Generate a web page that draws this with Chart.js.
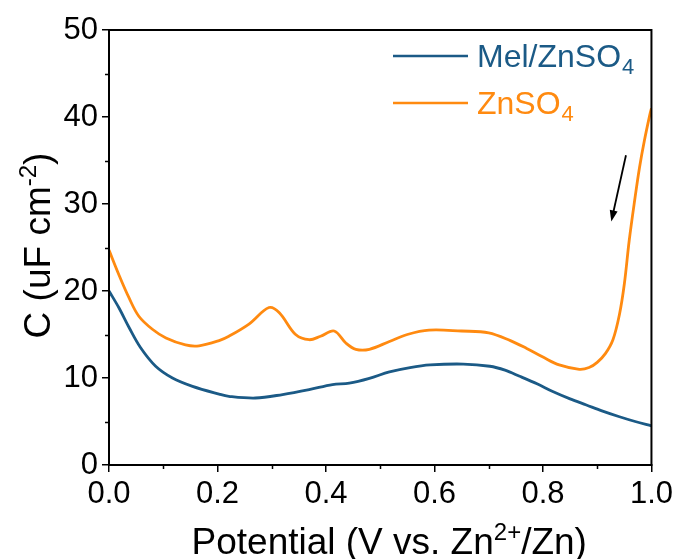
<!DOCTYPE html>
<html>
<head>
<meta charset="utf-8">
<script src="https://cdn.jsdelivr.net/npm/chart.js@4"></script>
<style>
html, body { margin: 0; padding: 0; background: #fff; }
#wrap { width: 677px; height: 559px; }
</style>
</head>
<body>
<div id="wrap"><canvas id="chart" width="677" height="559"></canvas></div>
<script>
// Potential (V) and capacitance (uF cm-2)
var potentialMel = [0, 0.018, 0.037, 0.058, 0.086, 0.117, 0.154, 0.203, 0.221, 0.27, 0.32, 0.369, 0.412, 0.443, 0.48, 0.517, 0.555, 0.592, 0.653, 0.702, 0.73, 0.757, 0.79, 0.818, 0.85, 0.88, 0.91, 0.941, 0.97, 1.00];
var capMel = [20.0, 18.1, 15.8, 13.5, 11.35, 10.0, 9.04, 8.15, 7.9, 7.7, 8.1, 8.66, 9.24, 9.4, 9.95, 10.7, 11.2, 11.5, 11.6, 11.35, 10.9, 10.2, 9.3, 8.45, 7.6, 6.9, 6.2, 5.55, 5.0, 4.5];

var potentialZn = [0, 0.018, 0.037, 0.055, 0.08, 0.105, 0.141, 0.166, 0.203, 0.221, 0.258, 0.295, 0.314, 0.344, 0.369, 0.39, 0.415, 0.437, 0.455, 0.48, 0.517, 0.55, 0.59, 0.65, 0.70, 0.74, 0.77, 0.80, 0.83, 0.867, 0.885, 0.9, 0.915, 0.929, 0.941, 0.95, 0.959, 0.969, 0.978, 0.987, 0.9975, 1.00];
var capZn = [24.7, 21.9, 19.2, 17.1, 15.6, 14.6, 13.8, 13.7, 14.3, 14.8, 16.2, 18.1, 17.5, 15.0, 14.4, 14.8, 15.4, 14.0, 13.3, 13.3, 14.2, 15.0, 15.5, 15.4, 15.2, 14.3, 13.4, 12.4, 11.5, 11.0, 11.2, 11.8, 12.8, 14.4, 17.3, 20.8, 25.8, 30.4, 34.2, 37.3, 40.4, 41.0];

var xMinorTicks = [0.1, 0.3, 0.5, 0.7, 0.9];
var yMinorTicks = [5, 15, 25, 35, 45];

var seriesNames = ["Mel/ZnSO", "ZnSO"];
var seriesColors = ["#1b5a86", "#ff8a10"];

// arrow annotation, in data units (start -> end)
var arrowFrom = [0.953, 35.6];
var arrowTo = [0.926, 28.0];

var FONT = 'Arial, "Liberation Sans", sans-serif';

function toPoints(xs, ys) {
    var pts = [];
    for (var i = 0; i < xs.length; i++) {
        pts.push({ x: xs[i], y: ys[i] });
    }
    return pts;
}

// draw text with sub/superscript parts, centred on x
function drawRich(ctx, parts, x, y, size) {
    var small = Math.round(size * 0.64);
    var total = 0;
    for (var i = 0; i < parts.length; i++) {
        ctx.font = (parts[i].s ? small : size) + "px " + FONT;
        total += ctx.measureText(parts[i].t).width;
    }
    var cx = x - total / 2;
    ctx.textAlign = "left";
    ctx.textBaseline = "alphabetic";
    for (var j = 0; j < parts.length; j++) {
        var p = parts[j];
        var dy = 0;
        if (p.s === "sup") dy = -size * 0.38;
        if (p.s === "sub") dy = size * 0.22;
        ctx.font = (p.s ? small : size) + "px " + FONT;
        ctx.fillText(p.t, cx, y + dy);
        cx += ctx.measureText(p.t).width;
    }
}

var extrasPlugin = {
    id: "extras",
    afterDraw: function (chart) {
        var ctx = chart.ctx;
        var area = chart.chartArea;
        var xs = chart.scales.x;
        var ys = chart.scales.y;
        ctx.save();

        // frame
        ctx.strokeStyle = "#000";
        ctx.lineWidth = 2;
        ctx.strokeRect(area.left, area.top, area.right - area.left, area.bottom - area.top);

        // minor ticks
        ctx.lineWidth = 1.5;
        ctx.beginPath();
        for (var i = 0; i < xMinorTicks.length; i++) {
            var px = Math.round(xs.getPixelForValue(xMinorTicks[i])) + 0.5;
            ctx.moveTo(px, area.bottom);
            ctx.lineTo(px, area.bottom + 4);
        }
        for (var k = 0; k < yMinorTicks.length; k++) {
            var py = Math.round(ys.getPixelForValue(yMinorTicks[k])) + 0.5;
            ctx.moveTo(area.left, py);
            ctx.lineTo(area.left - 4, py);
        }
        ctx.stroke();

        // axis titles
        ctx.fillStyle = "#000";
        drawRich(ctx, [{ t: "Potential (V vs. Zn" }, { t: "2+", s: "sup" }, { t: "/Zn)" }],
            (area.left + area.right) / 2 + 9, 554, 37);
        ctx.save();
        ctx.translate(50, (area.top + area.bottom) / 2 - 2);
        ctx.rotate(-Math.PI / 2);
        drawRich(ctx, [{ t: "C (uF cm" }, { t: "-2", s: "sup" }, { t: ")" }], 0, 0, 37);
        ctx.restore();

        // legend
        for (var s = 0; s < seriesNames.length; s++) {
            var ly = area.top + 26 + s * 47;
            ctx.strokeStyle = seriesColors[s];
            ctx.lineWidth = 2.5;
            ctx.beginPath();
            ctx.moveTo(393, ly);
            ctx.lineTo(468, ly);
            ctx.stroke();
            ctx.fillStyle = seriesColors[s];
            ctx.font = "32px " + FONT;
            ctx.textAlign = "left";
            ctx.textBaseline = "alphabetic";
            ctx.fillText(seriesNames[s], 477, ly + 11);
            var w = ctx.measureText(seriesNames[s]).width;
            ctx.font = "22px " + FONT;
            ctx.fillText("4", 478 + w, ly + 18);
        }

        // arrow
        var ax0 = xs.getPixelForValue(arrowFrom[0]), ay0 = ys.getPixelForValue(arrowFrom[1]);
        var ax1 = xs.getPixelForValue(arrowTo[0]), ay1 = ys.getPixelForValue(arrowTo[1]);
        var ang = Math.atan2(ay1 - ay0, ax1 - ax0);
        ctx.strokeStyle = "#000";
        ctx.fillStyle = "#000";
        ctx.lineWidth = 1.8;
        ctx.beginPath();
        ctx.moveTo(ax0, ay0);
        ctx.lineTo(ax1 - 6 * Math.cos(ang), ay1 - 6 * Math.sin(ang));
        ctx.stroke();
        ctx.beginPath();
        ctx.moveTo(ax1, ay1);
        ctx.lineTo(ax1 - 11 * Math.cos(ang) + 4 * Math.sin(ang), ay1 - 11 * Math.sin(ang) - 4 * Math.cos(ang));
        ctx.lineTo(ax1 - 11 * Math.cos(ang) - 4 * Math.sin(ang), ay1 - 11 * Math.sin(ang) + 4 * Math.cos(ang));
        ctx.closePath();
        ctx.fill();

        ctx.restore();
    }
};

var chart = new Chart(document.getElementById("chart"), {
    type: "line",
    data: {
        datasets: [
            {
                label: "Mel/ZnSO4",
                data: toPoints(potentialMel, capMel),
                borderColor: seriesColors[0],
                borderWidth: 2.8,
                pointRadius: 0,
                tension: 0.35,
                fill: false
            },
            {
                label: "ZnSO4",
                data: toPoints(potentialZn, capZn),
                borderColor: seriesColors[1],
                borderWidth: 2.8,
                pointRadius: 0,
                tension: 0.35,
                fill: false
            }
        ]
    },
    options: {
        responsive: false,
        animation: false,
        devicePixelRatio: 1,
        layout: { padding: { top: 30, right: 25, left: 0, bottom: 0 } },
        plugins: {
            legend: { display: false },
            tooltip: { enabled: false }
        },
        scales: {
            x: {
                type: "linear",
                min: 0,
                max: 1,
                afterFit: function (scale) { scale.height = 94; },
                ticks: {
                    stepSize: 0.2,
                    color: "#000",
                    padding: 4,
                    maxRotation: 0,
                    font: { family: FONT, size: 31 },
                    callback: function (v) { return v.toFixed(1); }
                },
                grid: { display: true, drawOnChartArea: false, tickLength: 7, color: "#000", lineWidth: 1.5 },
                border: { display: true, color: "#000", width: 2 }
            },
            y: {
                min: 0,
                max: 50,
                afterFit: function (scale) { scale.width = 109; },
                ticks: {
                    stepSize: 10,
                    color: "#000",
                    padding: 4,
                    font: { family: FONT, size: 31 }
                },
                grid: { display: true, drawOnChartArea: false, tickLength: 7, color: "#000", lineWidth: 1.5 },
                border: { display: true, color: "#000", width: 2 }
            }
        }
    },
    plugins: [extrasPlugin]
});
</script>
</body>
</html>
